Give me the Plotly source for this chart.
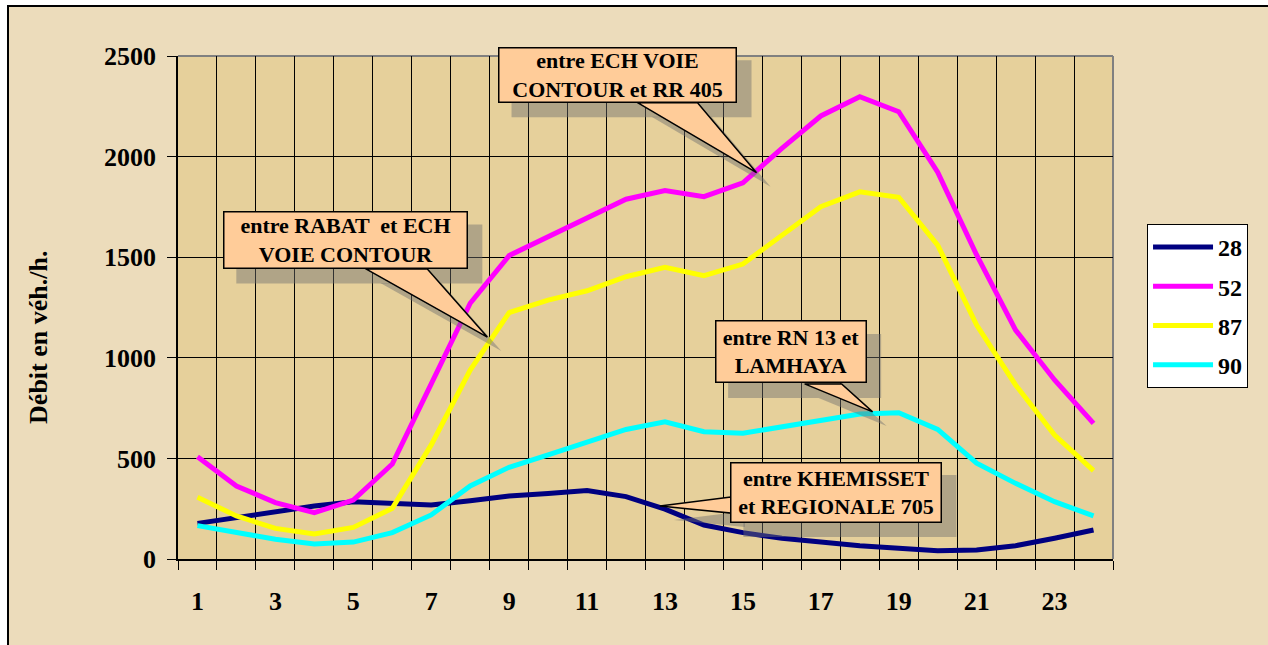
import plotly.graph_objects as go

hours = list(range(1, 25))
series_names = ["28", "52", "87", "90"]
s28 = [177, 207, 235, 263, 285, 278, 268, 290, 313, 326, 340, 310, 248, 169, 131, 103, 83, 66, 53, 41, 45, 66, 103, 144]
s52 = [508, 363, 280, 230, 293, 472, 870, 1271, 1508, 1602, 1693, 1788, 1831, 1801, 1870, 2041, 2202, 2298, 2223, 1923, 1511, 1138, 890, 674]
s87 = [307, 214, 152, 124, 157, 252, 567, 939, 1225, 1287, 1333, 1403, 1450, 1408, 1466, 1610, 1751, 1825, 1798, 1560, 1163, 865, 616, 439]
s90 = [166, 131, 98, 75, 84, 131, 219, 363, 456, 517, 583, 644, 682, 633, 625, 658, 694, 721, 727, 644, 476, 376, 285, 214]
series_values = [s28, s52, s87, s90]
colors = ["#000080", "#FF00FF", "#FFFF00", "#00FFFF"]
x_tick_labels = [str(h) for h in range(1, 24, 2)]
y_tick_values = [0, 500, 1000, 1500, 2000, 2500]

callouts = [
    dict(text="entre ECH VOIE<br>CONTOUR et RR 405", x=15.35, y=1920, ax=-139, ay=-98, w=240, h=57,
         wedge=[(-119, 70), (-59, 70)]),
    dict(text="entre RABAT  et ECH<br>VOIE CONTOUR", x=8.44, y=1103, ax=-142, ay=-97, w=246, h=59,
         wedge=[(-121, 68), (-60, 68)]),
    dict(text="entre RN 13 et<br>LAMHAYA", x=18.33, y=731, ax=-82, ay=-60, w=153, h=64,
         wedge=[(-68, 28), (-31, 28)]),
    dict(text="entre KHEMISSET<br>et REGIONALE 705", x=12.87, y=263, ax=176, ay=-14, w=213, h=62,
         wedge=[(71, 9), (71, -7)]),
]

FONT = "Liberation Serif"
fig = go.Figure()
for name, vals, col in zip(series_names, series_values, colors):
    fig.add_trace(go.Scatter(x=hours, y=vals, name=name, mode="lines",
                             line=dict(color=col, width=5), legendgroup=name))

PW, PH = 935, 503
shapes = []
annotations = []
shapes.append(dict(type="rect", xref="paper", yref="paper", x0=-170 / PW, x1=1.3, y0=-0.3,
                   y1=1 + 50 / PH, line=dict(color="black", width=2), fillcolor="#ECDCBB", layer="below"))
shapes.append(dict(type="rect", xref="paper", yref="paper", x0=0, x1=1, y0=0, y1=1,
                   line=dict(width=0), fillcolor="#E6D09B", layer="below"))
shapes.append(dict(type="line", xref="paper", yref="paper", x0=0, x1=1, y0=1, y1=1,
                   line=dict(color="#808080", width=2), layer="below"))
shapes.append(dict(type="line", xref="paper", yref="paper", x0=1, x1=1, y0=0, y1=1,
                   line=dict(color="#808080", width=2), layer="below"))

SH = 14
for c in callouts:
    bx0 = c["ax"] - c["w"] / 2
    bx1 = c["ax"] + c["w"] / 2
    by0 = -c["ay"] - c["h"] / 2
    by1 = -c["ay"] + c["h"] / 2
    shapes.append(dict(type="rect", xref="x", yref="y", xsizemode="pixel", ysizemode="pixel",
                       xanchor=c["x"], yanchor=c["y"], x0=bx0 + SH, x1=bx1 + SH, y0=by0 - SH, y1=by1 - SH,
                       fillcolor="rgba(110,110,110,0.45)", line=dict(width=0), layer="above"))
    (p1, p2) = c["wedge"]
    shapes.append(dict(type="path", xref="x", yref="y", xsizemode="pixel", ysizemode="pixel",
                       xanchor=c["x"], yanchor=c["y"],
                       path=f"M {p1[0]+SH},{p1[1]-SH} L {p2[0]+SH},{p2[1]-SH} L {SH},{-SH} Z",
                       fillcolor="rgba(110,110,110,0.45)", line=dict(width=0), layer="above"))
    shapes.append(dict(type="path", xref="x", yref="y", xsizemode="pixel", ysizemode="pixel",
                       xanchor=c["x"], yanchor=c["y"],
                       path=f"M {p1[0]},{p1[1]} L 0,0 L {p2[0]},{p2[1]} Z",
                       fillcolor="#FFCC99", line=dict(color="black", width=1.5), layer="above"))
    annotations.append(dict(x=c["x"], y=c["y"], xref="x", yref="y", ax=c["ax"], ay=c["ay"],
                            text="<b>" + c["text"].replace("<br>", "</b><br><b>") + "</b>",
                            showarrow=True, arrowcolor="rgba(0,0,0,0)", arrowwidth=0.1,
                            width=c["w"] - 4, height=c["h"] - 4, bgcolor="#FFCC99", bordercolor="black",
                            borderwidth=1.5, borderpad=0, align="center", valign="middle",
                            font=dict(family=FONT, size=22, color="black")))

annotations.append(dict(text="<b>Débit en véh./h.</b>", xref="paper", yref="paper", x=-0.1487, y=0.4414,
                        textangle=-90, showarrow=False, xanchor="center", yanchor="middle",
                        font=dict(family=FONT, size=26, color="black")))

fig.update_layout(
    width=1268, height=645,
    margin=dict(l=178, r=155, t=56, b=86),
    paper_bgcolor="white",
    plot_bgcolor="#E6D09B",
    font=dict(family=FONT, color="black", weight="bold"),
    shapes=shapes,
    annotations=annotations,
    legend=dict(x=1.0364, y=0.666, xanchor="left", yanchor="top", bgcolor="white",
                bordercolor="black", borderwidth=1, tracegroupgap=5, itemwidth=60,
                font=dict(family=FONT, size=24, color="black", weight="bold")),
    showlegend=True,
)
fig.update_xaxes(range=[0.5, 24.5], tickmode="array", tickvals=list(range(1, 24, 2)), ticktext=x_tick_labels,
                 ticks="", showgrid=False, showline=True, linecolor="black", linewidth=1.5,
                 ticklabelstandoff=18, tickfont=dict(family=FONT, size=26, weight="bold"),
                 zeroline=False,
                 minor=dict(tickmode="linear", tick0=0.5, dtick=1, ticks="outside", ticklen=9,
                            tickcolor="black", tickwidth=1, showgrid=True, gridcolor="black", gridwidth=1))
fig.update_yaxes(range=[0, 2500], tickmode="array", tickvals=y_tick_values, ticks="outside", ticklen=9,
                 tickcolor="black", showgrid=True, gridcolor="black", gridwidth=1, showline=True,
                 linecolor="black", linewidth=1.5, zeroline=False, ticklabelstandoff=6,
                 tickfont=dict(family=FONT, size=26, weight="bold"))

fig.write_html("out.html", config={"displayModeBar": False},
               post_script="document.body.style.margin='0';document.body.style.overflow='hidden';")
